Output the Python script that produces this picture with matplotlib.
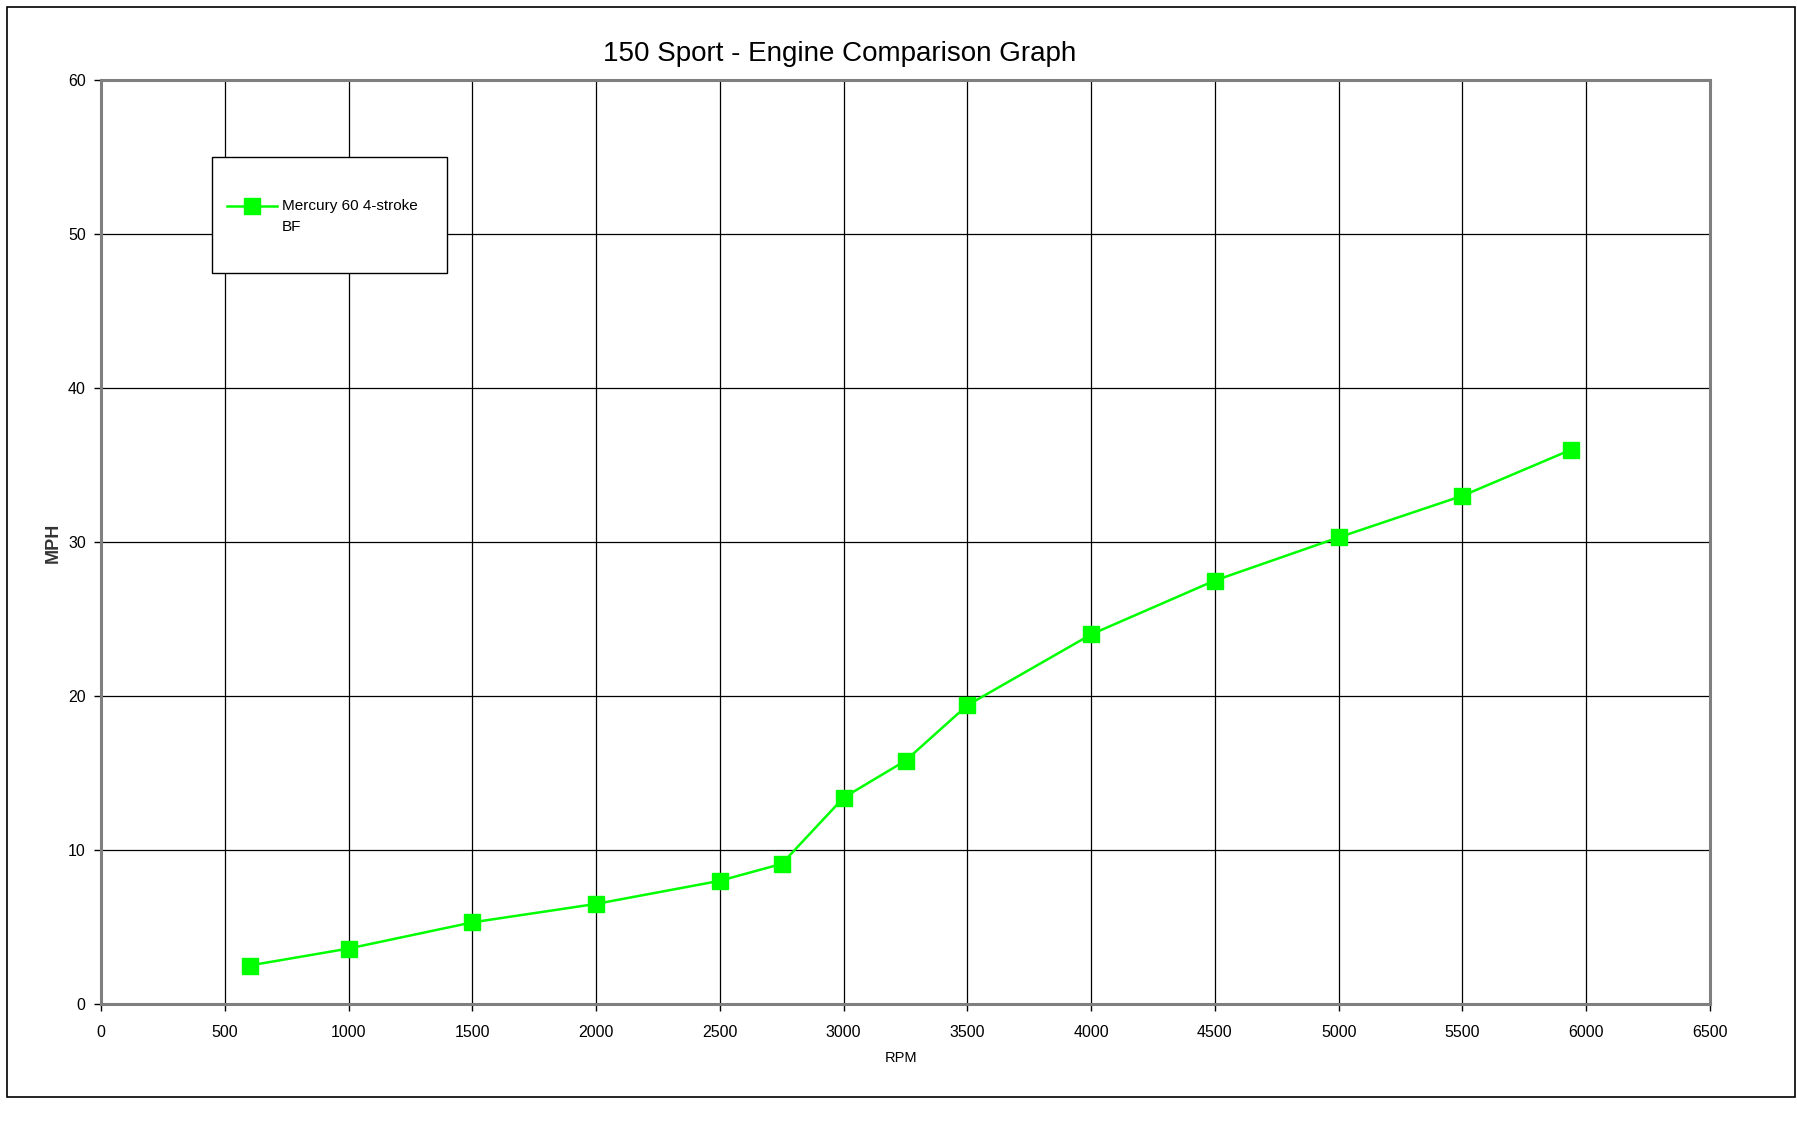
import matplotlib
matplotlib.use("Agg")
import matplotlib.pyplot as plt
from matplotlib.patches import Rectangle
from matplotlib.legend_handler import HandlerLine2D
from matplotlib.transforms import Affine2D

plt.rcParams['font.family'] = ['Liberation Sans', 'DejaVu Sans']

rpm = [600, 1000, 1500, 2000, 2500, 2750, 3000, 3250, 3500, 4000, 4500, 5000, 5500, 5940]
mph = [2.5, 3.6, 5.3, 6.5, 8.0, 9.1, 13.4, 15.8, 19.4, 24.0, 27.5, 30.3, 33.0, 36.0]
series_label = "Mercury 60 4-stroke\nBF"
title = "150 Sport - Engine Comparison Graph"
x_ticks = list(range(0, 6501, 500))
y_ticks = list(range(0, 61, 10))

W, H = 1797, 1126
fig = plt.figure(figsize=(W / 100, H / 100), dpi=100)
ax = fig.add_axes([101 / W, 1 - 1004 / H, (1710 - 101) / W, (1004 - 80) / H])

ax.plot(rpm, mph, color='#00FF00', linewidth=1.8, marker='s', markersize=11.5,
        markeredgecolor='#00FF00', label=series_label, zorder=3)

ax.set_xlim(0, 6500)
ax.set_ylim(0, 60)
ax.set_xticks(x_ticks)
ax.set_yticks(y_ticks)
ax.grid(True, color='black', linewidth=0.9)
ax.set_axisbelow(True)
for s in ax.spines.values():
    s.set_color('#7f7f7f')
    s.set_linewidth(2.2)
ax.tick_params(axis='both', direction='out', length=5, width=1, color='black',
               labelsize=11.5, pad=6)
ax.tick_params(axis='x', pad=10)

fig.text(901 / W, 1 - 1058 / H, "RPM", ha='center', va='center', fontsize=10.5)
fig.text(53 / W, 1 - 543 / H, "MPH", ha='center', va='center', fontsize=13,
         rotation=90, fontweight='bold', color='#333333')
fig.text(840 / W, 1 - 54 / H, title, ha='center', va='center', fontsize=20)

# outer frame
fig.patches.append(Rectangle((7 / W, 1 - 1097 / H), 1788 / W, 1090 / H,
                             transform=fig.transFigure, fill=False,
                             edgecolor='black', linewidth=1.2))
# legend box
ax.add_patch(Rectangle((212 / W, 1 - 273 / H), 235 / W, 116 / H,
                       transform=fig.transFigure, facecolor='white',
                       edgecolor='black', linewidth=1.0, zorder=5, clip_on=False))


class TopLineHandler(HandlerLine2D):
    """Align the legend handle with the first line of a two-line label."""
    def create_artists(self, legend, orig_handle, xdescent, ydescent, width,
                       height, fontsize, trans):
        trans2 = trans + Affine2D().translate(0, 10.5)
        return super().create_artists(legend, orig_handle, xdescent, ydescent,
                                      width, height, fontsize, trans2)


handles, labels = ax.get_legend_handles_labels()
leg = ax.legend(handles, labels, loc='upper left',
                bbox_to_anchor=(227 / W, 1 - 199 / H),
                bbox_transform=fig.transFigure, frameon=False, fontsize=11,
                handlelength=3.3, handletextpad=0.3, borderpad=0,
                borderaxespad=0,
                handler_map={handles[0]: TopLineHandler()})
for t in leg.get_texts():
    t.set_linespacing(1.6)
leg.set_zorder(6)

fig.savefig("out.png", dpi=100, facecolor='white')
